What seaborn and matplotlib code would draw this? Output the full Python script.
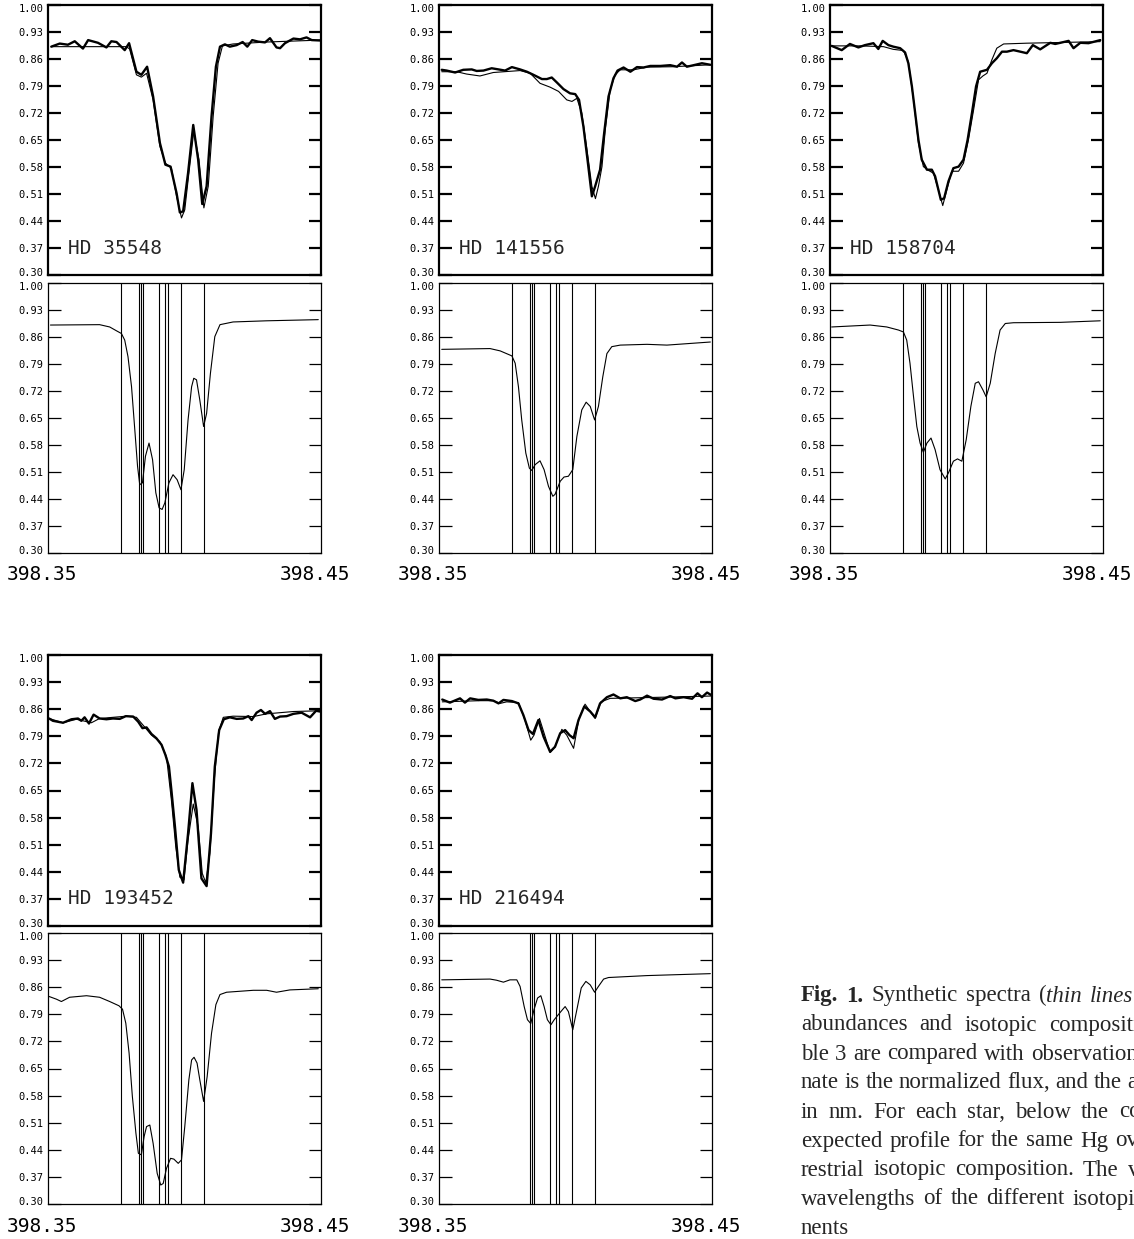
"""
Hg II 398.4 nm profiles of five HgMn stars: observed vs synthetic (upper panels)
and the synthetic profile for terrestrial isotopic mix (lower panels).
"""
import matplotlib
matplotlib.use("Agg")
import matplotlib.pyplot as plt
from matplotlib.transforms import ScaledTranslation, blended_transform_factory
import seaborn as sns


WL_MIN, WL_MAX = 398.35, 398.45
FLUX_TICKS = [0.30, 0.37, 0.44, 0.51, 0.58, 0.65, 0.72, 0.79, 0.86, 0.93, 1.00]

# isotopic / hyperfine component wavelengths (nm)
ISO_LINES = [398.3768, 398.3835, 398.3841, 398.3849, 398.3908,
             398.3929, 398.3940, 398.3988, 398.4070]

# ---- HD 35548 ----
HD35548_OBS_WL = [398.3512, 398.3543, 398.3573, 398.3598, 398.3628, 398.3647, 398.3683, 398.3714,
                  398.3732, 398.3751, 398.3781, 398.3797, 398.3824, 398.3842, 398.3863, 398.3885,
                  398.3910, 398.3930, 398.3949, 398.3971, 398.3983, 398.3995, 398.4013, 398.4032,
                  398.4050, 398.4065, 398.4081, 398.4099, 398.4115, 398.4130, 398.4148, 398.4166,
                  398.4191, 398.4213, 398.4230, 398.4248, 398.4270, 398.4295, 398.4313, 398.4337,
                  398.4350, 398.4368, 398.4399, 398.4423, 398.4447, 398.4466, 398.4496]
HD35548_OBS_FX = [0.892, 0.900, 0.897, 0.906, 0.887, 0.909, 0.902, 0.890, 0.906, 0.904,
                  0.883, 0.901, 0.827, 0.819, 0.840, 0.763, 0.642, 0.586, 0.581, 0.512,
                  0.462, 0.465, 0.564, 0.689, 0.599, 0.484, 0.530, 0.711, 0.840, 0.892,
                  0.898, 0.892, 0.896, 0.904, 0.892, 0.909, 0.905, 0.903, 0.914, 0.890,
                  0.888, 0.901, 0.913, 0.911, 0.916, 0.909, 0.908]
HD35548_SYN_WL = [398.3512, 398.3787, 398.3799, 398.3824, 398.3842, 398.3861, 398.3885, 398.3910,
                  398.3930, 398.3952, 398.3971, 398.3989, 398.4001, 398.4016, 398.4034, 398.4053,
                  398.4071, 398.4087, 398.4105, 398.4123, 398.4139, 398.4178, 398.4301, 398.4496]
HD35548_SYN_FX = [0.892, 0.892, 0.886, 0.819, 0.813, 0.823, 0.754, 0.633, 0.590, 0.577,
                  0.504, 0.448, 0.469, 0.564, 0.672, 0.599, 0.474, 0.530, 0.711, 0.849,
                  0.894, 0.899, 0.904, 0.909]
HD35548_TER_WL = [398.3509, 398.3689, 398.3726, 398.3751, 398.3769, 398.3781, 398.3793, 398.3806,
                  398.3818, 398.3828, 398.3836, 398.3846, 398.3857, 398.3870, 398.3883, 398.3895,
                  398.3907, 398.3918, 398.3928, 398.3943, 398.3958, 398.3973, 398.3987, 398.3999,
                  398.4013, 398.4026, 398.4034, 398.4044, 398.4056, 398.4070, 398.4081, 398.4095,
                  398.4111, 398.4130, 398.4178, 398.4301, 398.4490]
HD35548_TER_FX = [0.891, 0.892, 0.886, 0.876, 0.869, 0.852, 0.809, 0.731, 0.619, 0.525,
                  0.477, 0.482, 0.551, 0.585, 0.542, 0.456, 0.417, 0.413, 0.430, 0.482,
                  0.503, 0.490, 0.464, 0.516, 0.645, 0.731, 0.753, 0.749, 0.697, 0.628,
                  0.662, 0.766, 0.861, 0.892, 0.899, 0.902, 0.905]

# ---- HD 141556 ----
HD141556_OBS_WL = [398.3510, 398.3528, 398.3559, 398.3589, 398.3620, 398.3638, 398.3663, 398.3693,
                   398.3718, 398.3742, 398.3767, 398.3797, 398.3822, 398.3846, 398.3877, 398.3895,
                   398.3913, 398.3932, 398.3956, 398.3980, 398.3999, 398.4013, 398.4029, 398.4044,
                   398.4060, 398.4072, 398.4090, 398.4105, 398.4121, 398.4139, 398.4154, 398.4176,
                   398.4201, 398.4225, 398.4249, 398.4274, 398.4311, 398.4347, 398.4372, 398.4390,
                   398.4408, 398.4439, 398.4463, 398.4494]
HD141556_OBS_FX = [0.832, 0.830, 0.825, 0.832, 0.833, 0.829, 0.830, 0.836, 0.833, 0.830,
                   0.839, 0.833, 0.827, 0.819, 0.808, 0.808, 0.812, 0.799, 0.782, 0.771,
                   0.769, 0.754, 0.685, 0.599, 0.504, 0.530, 0.573, 0.668, 0.763, 0.810,
                   0.830, 0.838, 0.827, 0.839, 0.838, 0.842, 0.842, 0.844, 0.840, 0.851,
                   0.840, 0.845, 0.849, 0.845]
HD141556_SYN_WL = [398.3510, 398.3565, 398.3601, 398.3650, 398.3699, 398.3797, 398.3834, 398.3870,
                   398.3907, 398.3938, 398.3968, 398.3987, 398.4005, 398.4023, 398.4042, 398.4060,
                   398.4073, 398.4084, 398.4097, 398.4109, 398.4127, 398.4145, 398.4164, 398.4213,
                   398.4262, 398.4359, 398.4494]
HD141556_SYN_FX = [0.827, 0.827, 0.821, 0.816, 0.825, 0.830, 0.823, 0.797, 0.787, 0.776,
                   0.754, 0.750, 0.758, 0.720, 0.625, 0.530, 0.498, 0.530, 0.581, 0.676,
                   0.780, 0.819, 0.832, 0.832, 0.839, 0.840, 0.845]
HD141556_TER_WL = [398.3510, 398.3687, 398.3724, 398.3767, 398.3779, 398.3791, 398.3803, 398.3818,
                   398.3831, 398.3840, 398.3852, 398.3870, 398.3885, 398.3901, 398.3917, 398.3925,
                   398.3944, 398.3958, 398.3974, 398.3990, 398.4005, 398.4023, 398.4039, 398.4054,
                   398.4070, 398.4084, 398.4100, 398.4115, 398.4133, 398.4164, 398.4262, 398.4335,
                   398.4494]
HD141556_TER_FX = [0.828, 0.830, 0.824, 0.811, 0.792, 0.731, 0.645, 0.559, 0.520, 0.514,
                   0.529, 0.539, 0.516, 0.473, 0.447, 0.452, 0.486, 0.497, 0.499, 0.516,
                   0.602, 0.671, 0.691, 0.680, 0.645, 0.680, 0.757, 0.817, 0.835, 0.839,
                   0.841, 0.839, 0.847]

# ---- HD 158704 ----
HD158704_OBS_WL = [398.3506, 398.3543, 398.3573, 398.3604, 398.3628, 398.3659, 398.3677, 398.3693,
                   398.3714, 398.3732, 398.3757, 398.3775, 398.3787, 398.3800, 398.3812, 398.3824,
                   398.3836, 398.3855, 398.3873, 398.3885, 398.3897, 398.3906, 398.3918, 398.3934,
                   398.3952, 398.3971, 398.3989, 398.4004, 398.4020, 398.4035, 398.4050, 398.4075,
                   398.4093, 398.4111, 398.4130, 398.4148, 398.4172, 398.4191, 398.4221, 398.4243,
                   398.4270, 398.4307, 398.4325, 398.4344, 398.4374, 398.4392, 398.4417, 398.4447,
                   398.4490]
HD158704_OBS_FX = [0.894, 0.883, 0.899, 0.890, 0.896, 0.901, 0.886, 0.907, 0.896, 0.892,
                   0.888, 0.877, 0.849, 0.789, 0.720, 0.650, 0.599, 0.573, 0.573, 0.556,
                   0.521, 0.495, 0.499, 0.543, 0.577, 0.581, 0.599, 0.650, 0.720, 0.789,
                   0.827, 0.832, 0.849, 0.862, 0.879, 0.879, 0.883, 0.880, 0.875, 0.896,
                   0.885, 0.902, 0.899, 0.902, 0.907, 0.888, 0.902, 0.901, 0.909]
HD158704_SYN_WL = [398.3506, 398.3610, 398.3696, 398.3732, 398.3769, 398.3787, 398.3806, 398.3824,
                   398.3842, 398.3861, 398.3879, 398.3897, 398.3913, 398.3928, 398.3946, 398.3971,
                   398.3989, 398.4007, 398.4026, 398.4044, 398.4060, 398.4075, 398.4093, 398.4111,
                   398.4136, 398.4221, 398.4490]
HD158704_SYN_FX = [0.894, 0.894, 0.892, 0.885, 0.882, 0.853, 0.754, 0.642, 0.581, 0.571,
                   0.564, 0.521, 0.480, 0.521, 0.569, 0.569, 0.590, 0.650, 0.728, 0.806,
                   0.816, 0.823, 0.858, 0.888, 0.899, 0.901, 0.905]
HD158704_TER_WL = [398.3506, 398.3647, 398.3708, 398.3751, 398.3769, 398.3781, 398.3793, 398.3806,
                   398.3818, 398.3830, 398.3842, 398.3855, 398.3870, 398.3885, 398.3903, 398.3922,
                   398.3934, 398.3952, 398.3967, 398.3983, 398.3999, 398.4016, 398.4032, 398.4044,
                   398.4060, 398.4072, 398.4087, 398.4105, 398.4123, 398.4142, 398.4172, 398.4344,
                   398.4490]
HD158704_TER_FX = [0.886, 0.891, 0.886, 0.878, 0.873, 0.852, 0.792, 0.705, 0.628, 0.585,
                   0.561, 0.585, 0.598, 0.568, 0.516, 0.492, 0.508, 0.538, 0.544, 0.538,
                   0.594, 0.680, 0.740, 0.744, 0.723, 0.705, 0.740, 0.817, 0.878, 0.895,
                   0.897, 0.898, 0.902]

# ---- HD 193452 ----
HD193452_OBS_WL = [398.3504, 398.3518, 398.3555, 398.3586, 398.3610, 398.3622, 398.3634, 398.3650,
                   398.3667, 398.3689, 398.3714, 398.3738, 398.3763, 398.3785, 398.3812, 398.3830,
                   398.3846, 398.3861, 398.3879, 398.3897, 398.3916, 398.3930, 398.3943, 398.3952,
                   398.3965, 398.3979, 398.3995, 398.4013, 398.4029, 398.4044, 398.4062, 398.4081,
                   398.4097, 398.4111, 398.4127, 398.4144, 398.4166, 398.4191, 398.4215, 398.4234,
                   398.4246, 398.4264, 398.4280, 398.4295, 398.4313, 398.4331, 398.4350, 398.4374,
                   398.4399, 398.4429, 398.4460, 398.4482, 398.4496]
HD193452_OBS_FX = [0.836, 0.830, 0.825, 0.834, 0.836, 0.830, 0.839, 0.823, 0.846, 0.836,
                   0.834, 0.836, 0.835, 0.842, 0.841, 0.828, 0.811, 0.813, 0.796, 0.785,
                   0.768, 0.742, 0.712, 0.651, 0.557, 0.445, 0.412, 0.539, 0.669, 0.600,
                   0.423, 0.403, 0.539, 0.712, 0.806, 0.834, 0.839, 0.835, 0.836, 0.842,
                   0.832, 0.851, 0.858, 0.848, 0.855, 0.835, 0.841, 0.842, 0.848, 0.851,
                   0.839, 0.856, 0.854]
HD193452_SYN_WL = [398.3504, 398.3555, 398.3604, 398.3659, 398.3689, 398.3787, 398.3824, 398.3848,
                   398.3879, 398.3910, 398.3934, 398.3952, 398.3968, 398.3983, 398.3998, 398.4013,
                   398.4032, 398.4050, 398.4065, 398.4078, 398.4093, 398.4109, 398.4125, 398.4142,
                   398.4178, 398.4252, 398.4301, 398.4399, 398.4496]
HD193452_SYN_FX = [0.836, 0.825, 0.834, 0.825, 0.836, 0.842, 0.839, 0.819, 0.793, 0.776,
                   0.737, 0.625, 0.505, 0.426, 0.419, 0.522, 0.615, 0.557, 0.436, 0.412,
                   0.488, 0.677, 0.802, 0.839, 0.842, 0.841, 0.848, 0.854, 0.856]
HD193452_TER_WL = [398.3504, 398.3531, 398.3549, 398.3579, 398.3641, 398.3689, 398.3726, 398.3760,
                   398.3773, 398.3785, 398.3797, 398.3809, 398.3822, 398.3831, 398.3842, 398.3852,
                   398.3861, 398.3873, 398.3885, 398.3900, 398.3913, 398.3922, 398.3934, 398.3949,
                   398.3961, 398.3977, 398.3989, 398.4001, 398.4016, 398.4026, 398.4035, 398.4046,
                   398.4056, 398.4070, 398.4083, 398.4099, 398.4115, 398.4130, 398.4154, 398.4252,
                   398.4301, 398.4337, 398.4386, 398.4490]
HD193452_TER_FX = [0.836, 0.829, 0.823, 0.834, 0.838, 0.834, 0.823, 0.812, 0.803, 0.767,
                   0.690, 0.578, 0.483, 0.431, 0.427, 0.474, 0.500, 0.504, 0.457, 0.379,
                   0.349, 0.353, 0.392, 0.418, 0.416, 0.405, 0.414, 0.500, 0.621, 0.672,
                   0.679, 0.664, 0.621, 0.565, 0.629, 0.741, 0.815, 0.841, 0.847, 0.852,
                   0.852, 0.847, 0.853, 0.856]

# ---- HD 216494 ----
HD216494_OBS_WL = [398.3512, 398.3540, 398.3577, 398.3595, 398.3614, 398.3644, 398.3675, 398.3699,
                   398.3718, 398.3736, 398.3767, 398.3791, 398.3809, 398.3828, 398.3844, 398.3864,
                   398.3883, 398.3907, 398.3925, 398.3944, 398.3962, 398.3978, 398.3993, 398.4011,
                   398.4032, 398.4054, 398.4072, 398.4090, 398.4115, 398.4139, 398.4164, 398.4188,
                   398.4219, 398.4237, 398.4262, 398.4286, 398.4317, 398.4347, 398.4366, 398.4396,
                   398.4427, 398.4447, 398.4463, 398.4482, 398.4496]
HD216494_OBS_FX = [0.885, 0.877, 0.888, 0.877, 0.888, 0.884, 0.885, 0.882, 0.875, 0.884,
                   0.881, 0.875, 0.845, 0.806, 0.796, 0.832, 0.789, 0.750, 0.763, 0.798,
                   0.806, 0.793, 0.785, 0.832, 0.867, 0.854, 0.839, 0.875, 0.891, 0.898,
                   0.888, 0.891, 0.881, 0.885, 0.895, 0.887, 0.885, 0.894, 0.888, 0.891,
                   0.887, 0.901, 0.891, 0.903, 0.897]
HD216494_SYN_WL = [398.3512, 398.3650, 398.3699, 398.3724, 398.3748, 398.3791, 398.3815, 398.3836,
                   398.3848, 398.3868, 398.3885, 398.3907, 398.3925, 398.3950, 398.3968, 398.3993,
                   398.4013, 398.4035, 398.4054, 398.4072, 398.4093, 398.4127, 398.4262, 398.4496]
HD216494_SYN_FX = [0.879, 0.882, 0.882, 0.875, 0.879, 0.877, 0.832, 0.780, 0.793, 0.836,
                   0.798, 0.748, 0.763, 0.808, 0.793, 0.759, 0.836, 0.873, 0.854, 0.836,
                   0.879, 0.888, 0.890, 0.894]
HD216494_TER_WL = [398.3510, 398.3687, 398.3711, 398.3736, 398.3760, 398.3785, 398.3797, 398.3812,
                   398.3824, 398.3836, 398.3848, 398.3861, 398.3873, 398.3885, 398.3897, 398.3910,
                   398.3922, 398.3944, 398.3962, 398.3974, 398.3990, 398.4005, 398.4021, 398.4038,
                   398.4054, 398.4070, 398.4084, 398.4103, 398.4121, 398.4262, 398.4494]
HD216494_TER_FX = [0.879, 0.881, 0.878, 0.873, 0.879, 0.879, 0.862, 0.810, 0.776, 0.766,
                   0.802, 0.832, 0.838, 0.810, 0.776, 0.763, 0.776, 0.795, 0.810, 0.797,
                   0.750, 0.802, 0.858, 0.875, 0.866, 0.847, 0.862, 0.881, 0.885, 0.890,
                   0.895]

STARS = {
    "HD 35548": (HD35548_OBS_WL, HD35548_OBS_FX, HD35548_SYN_WL, HD35548_SYN_FX,
                 HD35548_TER_WL, HD35548_TER_FX, ISO_LINES),
    "HD 141556": (HD141556_OBS_WL, HD141556_OBS_FX, HD141556_SYN_WL, HD141556_SYN_FX,
                  HD141556_TER_WL, HD141556_TER_FX, ISO_LINES),
    "HD 158704": (HD158704_OBS_WL, HD158704_OBS_FX, HD158704_SYN_WL, HD158704_SYN_FX,
                  HD158704_TER_WL, HD158704_TER_FX, ISO_LINES),
    "HD 193452": (HD193452_OBS_WL, HD193452_OBS_FX, HD193452_SYN_WL, HD193452_SYN_FX,
                  HD193452_TER_WL, HD193452_TER_FX, ISO_LINES),
    "HD 216494": (HD216494_OBS_WL, HD216494_OBS_FX, HD216494_SYN_WL, HD216494_SYN_FX,
                  HD216494_TER_WL, HD216494_TER_FX, ISO_LINES[1:]),
}

# caption lines (the right part is cut by the page edge, as in the original)
CAPTION = [
    [("Fig. 1.", "bold"), (" Synthetic spectra (", "normal"), ("thin lines", "italic"), (") computed", "normal")],
    [("abundances and isotopic compositions given", "normal")],
    [("ble 3 are compared with observations", "normal")],
    [("nate is the normalized flux, and the abscissa", "normal")],
    [("in nm. For each star, below the comparison,", "normal")],
    [("expected profile for the same Hg overabundance", "normal")],
    [("restrial isotopic composition. The vertical", "normal")],
    [("wavelengths of the different isotopic and", "normal")],
    [("nents", "normal")],
]
CAPTION_GAPS = [8, 12, 6.5, 5.5, 10, 7, 9, 8, 6]   # word spacing (px) of the justified lines

sns.set_style("white")
plt.rcParams["font.family"] = ["DejaVu Sans Mono"]

FIG_W, FIG_H = 1134, 1239
fig = plt.figure(figsize=(FIG_W / 100, FIG_H / 100), dpi=100)


def px_axes(left, top, right, bottom):
    return fig.add_axes([left / FIG_W, 1 - bottom / FIG_H,
                         (right - left) / FIG_W, (bottom - top) / FIG_H])


def style_axes(ax, upper):
    ax.set_xlim(WL_MIN, WL_MAX)
    ax.set_ylim(FLUX_TICKS[0], FLUX_TICKS[-1])
    ax.set_yticks(FLUX_TICKS)
    ax.set_yticklabels([f"{v:.2f}" for v in FLUX_TICKS])
    lw = 1.6 if upper else 0.9
    for sp in ax.spines.values():
        sp.set_visible(True)
        sp.set_linewidth(lw)
        sp.set_color("black")
    ax.tick_params(axis="y", direction="in", left=True, right=True, length=9,
                   width=lw, labelsize=7.5, pad=3, colors="black")
    # end labels sit a little inside the frame, so stacked panels do not collide
    ylabs = ax.get_yticklabels()
    ylabs[0].set_transform(ylabs[0].get_transform()
                           + ScaledTranslation(0, 0.03, fig.dpi_scale_trans))
    ylabs[-1].set_transform(ylabs[-1].get_transform()
                            + ScaledTranslation(0, -0.035, fig.dpi_scale_trans))
    ax.set_xlabel("")
    ax.set_ylabel("")
    if upper:
        ax.set_xticks([])
    else:
        ax.set_xticks([WL_MIN, WL_MAX])
        ax.set_xticklabels([f"{WL_MIN:.2f}", f"{WL_MAX:.2f}"])
        ax.tick_params(axis="x", length=0, labelsize=14, pad=9, colors="black")
        shift = ScaledTranslation(-0.06, 0, fig.dpi_scale_trans)
        for lab in ax.get_xticklabels():
            lab.set_transform(lab.get_transform() + shift)


COL_X = [(48, 321), (439, 712), (830, 1103)]
ROW_Y = [((5, 275), (283, 553)), ((655, 926), (933, 1204))]
LAYOUT = [("HD 35548", 0, 0), ("HD 141556", 0, 1), ("HD 158704", 0, 2),
          ("HD 193452", 1, 0), ("HD 216494", 1, 1)]

for name, row, col in LAYOUT:
    obs_wl, obs_fx, syn_wl, syn_fx, ter_wl, ter_fx, lines = STARS[name]
    x0, x1 = COL_X[col]
    (ut, ub), (lt, lb) = ROW_Y[row]

    ax_up = px_axes(x0, ut, x1, ub)
    sns.lineplot(x=syn_wl, y=syn_fx, ax=ax_up, color="black", linewidth=0.8,
                 sort=False, estimator=None)
    sns.lineplot(x=obs_wl, y=obs_fx, ax=ax_up, color="black", linewidth=1.7,
                 sort=False, estimator=None)
    style_axes(ax_up, True)
    ax_up.text(0.073, 0.37, name, fontsize=14, va="center", ha="left",
               transform=blended_transform_factory(ax_up.transAxes, ax_up.transData))

    ax_lo = px_axes(x0, lt, x1, lb)
    for wl in lines:
        ax_lo.axvline(wl, color="black", linewidth=0.8)
    sns.lineplot(x=ter_wl, y=ter_fx, ax=ax_lo, color="black", linewidth=0.8,
                 sort=False, estimator=None)
    style_axes(ax_lo, False)

# caption, placed word by word so each line keeps its own (justified) spacing
renderer = fig.canvas.get_renderer()
CAP_SIZE = 16.5
x_start, y_base, leading = 801, 1001.5, 29.0
for i, runs in enumerate(CAPTION):
    x = x_start
    y = 1 - (y_base + i * leading) / FIG_H
    words = [[]]
    for text, style in runs:
        parts = text.split(" ")
        for k, part in enumerate(parts):
            if k > 0:
                words.append([])
            if part:
                words[-1].append((part, style))
    words = [w for w in words if w]
    for word in words:
        for part, style in word:
            t = fig.text(x / FIG_W, y, part, fontsize=CAP_SIZE, va="baseline", ha="left",
                         family=["Liberation Serif", "DejaVu Serif"],
                         weight="bold" if style == "bold" else "normal",
                         style="italic" if style == "italic" else "normal")
            x += t.get_window_extent(renderer).width
        x += CAPTION_GAPS[i]

fig.savefig("out.png", dpi=100)
